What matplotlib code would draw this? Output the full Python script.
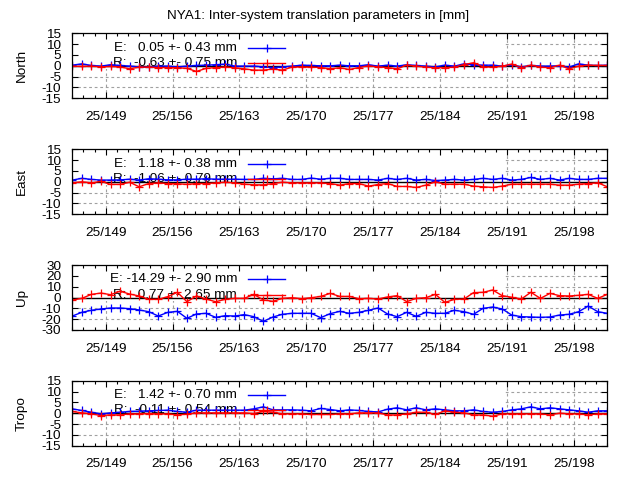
import numpy as np
import matplotlib
matplotlib.use('Agg')
import matplotlib.pyplot as plt
from matplotlib.patches import Rectangle
from matplotlib.ticker import FixedLocator

plt.rcParams['font.family'] = ['Liberation Sans', 'DejaVu Sans']
plt.rcParams['font.size'] = 9.7
plt.rcParams['axes.unicode_minus'] = False

# day of year (values sit at noon of each day)
dias = [145, 146, 147, 148, 149, 150, 151, 152, 153, 154, 155, 156, 157, 158, 159,
        160, 161, 162, 163, 164, 165, 166, 167, 168, 169, 170, 171, 172, 173, 174,
        175, 176, 177, 178, 179, 180, 181, 182, 183, 184, 185, 186, 187, 188, 189,
        190, 191, 192, 193, 194, 195, 196, 197, 198, 199, 200, 201]

tick_dias = [149, 156, 163, 170, 177, 184, 191, 198]
tick_labels = ['25/149', '25/156', '25/163', '25/170', '25/177', '25/184', '25/191', '25/198']

north_E = [0.3, 0.9, 0.15, -0.15, 0.5, 0.15, -0.15, -0.5, -0.6, -0.15, -0.15, -0.5, -0.15, 0.15,
           0.3, 0.5, 0.8, -0.15, -0.15, -0.15, -0.5, -0.8, -0.5, -0.15, 0.3, 0.15,
           0.0, 0.0, 0.3, 0.0, 0.0, 0.5, -0.15, 0.3, -0.15, 0.5, 0.15, -0.15, -0.5, 0.3, -0.15,
           0.9, 0.5, 0.3, 0.3, -0.15, 0.5, -0.5, 0.15, -0.15, -0.15, 0.0, -0.6, 0.9, 0.3, 0.15, 0.3]
north_R = [-0.15, -0.3, -0.15, -0.5, -0.3, -0.5, -1.4, -0.6, -0.6, -0.8, -0.8, -0.9, -1.2, -2.6,
           -1.2, -0.8, -0.6, -0.9, -1.4, -2.0, -2.0, -1.5, -2.0, -0.6, -0.5, -0.6,
           -0.8, -1.4, -0.9, -1.7, -0.8, 0.0, -0.5, -0.8, -1.4, 0.3, -0.15, -0.6, -0.9, -0.9, -0.6,
           0.6, 1.4, -0.5, -0.6, -0.15, 0.8, -0.9, 0.3, -0.6, -0.9, 0.3, -1.4, -0.15, 0.3, 0.15, 0.15]

east_E = [0.8, 1.6, 1.1, 0.8, 0.8, 0.9, 1.2, 0.8, 1.4, 1.2, 0.9, 0.9, 1.2, 1.2, 1.4, 1.2, 1.2,
          1.2, 1.1, 1.1, 1.6, 1.4, 1.6, 1.1, 1.1, 1.7, 1.2, 1.6,
          1.6, 1.1, 1.1, 1.1, 0.8, 1.6, 1.1, 1.6, 0.8, 1.1, 0.6, 0.8, 1.1, 0.8, 1.1, 1.6, 1.1,
          1.6, 0.8, 1.1, 2.0, 1.1, 1.6, 0.8, 1.6, 1.1, 1.1, 1.6, 1.6]
east_R = [-0.5, 0.0, -0.5, 0.2, -1.2, -1.2, -0.2, -2.3, -0.8, -0.5, -0.8, -0.9, -1.2, -0.8, -0.8,
          -0.5, -0.2, -0.5, -1.1, -1.4, -1.4, -0.8, -0.2, -0.5, -0.5, -0.5, -0.5, -0.8,
          -1.55, -0.8, -0.8, -2.0, -1.25, -0.8, -2.15, -2.15, -2.6, -1.55, 0.0, -1.1, -1.1, -1.1,
          -2.0, -2.3, -2.6, -2.0, -1.1, -1.1, -1.1, -1.1, -1.1, -1.55, -1.55, -1.1, -0.8, -0.45, -2.3]

up_E = [-17.1, -13.7, -11.8, -10.6, -9.7, -9.7, -10.3, -11.5, -13.1, -17.1, -13.7, -12.8, -19.2,
        -15.2, -14.6, -18.3, -16.8, -17.1, -15.8,
        -17.7, -22.0, -18.0, -15.5, -14.6, -14.6, -14.6, -18.6, -14.9, -12.8, -14.6, -13.7, -11.8,
        -9.7, -15.2, -17.7, -13.7, -17.4, -13.7,
        -14.6, -14.6, -11.8, -13.1, -15.5, -10.0, -8.8, -10.6, -16.2, -17.7, -18.0, -18.3, -18.0,
        -16.2, -15.5, -13.1, -7.9, -13.1, -14.6]
up_R = [-2.3, -0.8, 2.9, 4.1, 2.6, 5.8, 3.2, 1.4, -1.7, -1.7, 0.8, 4.8, -3.9, 1.4, -1.4, -3.9,
        -1.7, -0.8, -0.8,
        2.9, -2.3, -3.5, -0.8, -0.2, -1.1, -0.2, 1.0, 3.8, 1.0, 1.0, -1.1, -0.8, -1.4, 0.5, 1.7,
        -3.8, -0.8, -0.2,
        2.9, -4.5, -1.7, -1.4, 4.5, 4.8, 6.9, 1.7, 0.2, -1.4, 4.8, -0.8, 3.8, 1.7, 1.4, 2.0, 2.9,
        -0.8, 2.9]

tropo_E = [2.0, 1.25, 0.45, -0.3, 0.15, 0.45, 0.8, 0.95, 1.1, 1.25, 1.4, 0.8, 0.45, 1.4, 1.4, 1.4,
           1.4, 1.4, 1.4, 2.0, 2.95, 1.55, 1.55, 1.55, 1.4, 1.1, 2.2, 1.7,
           1.1, 1.55, 1.25, 0.8, 0.6, 1.85, 2.5, 1.55, 2.5, 1.55, 2.0, 1.55, 1.1, 1.1, 1.55, 0.8,
           0.45, 0.8, 1.55, 2.0, 2.95, 2.0, 2.5, 2.0, 1.55, 1.1, 0.45, 1.1, 1.1]
tropo_R = [0.8, 0.15, -0.3, -1.1, -0.8, -0.8, -0.3, -0.3, -0.15, -0.3, -0.3, -0.8, -0.45, 0.15,
           0.15, 0.15, 0.15, 0.15, 0.15, -0.15, 0.8, 0.45, -0.3, -0.3, -0.3, -0.6, -0.6, -0.6,
           -0.3, -0.3, 0.15, 0.15, 0.15, -0.8, -0.8, -0.3, 0.45, 0.45, -0.6, 1.1, 0.45, 0.15, -0.8,
           -0.8, -1.4, -0.3, -0.3, -0.3, -0.3, -0.3, -0.8, 0.0, -0.3, -0.3, -0.8, -0.3, -0.3]

paneles = ['North', 'East', 'Up', 'Tropo']
series_E = [north_E, east_E, up_E, tropo_E]
series_R = [north_R, east_R, up_R, tropo_R]
limites = [15, 15, 30, 15]
pasos = [5, 5, 10, 5]
textos_E = ['E:   0.05 +- 0.43 mm', 'E:   1.18 +- 0.38 mm', 'E: -14.29 +- 2.90 mm', 'E:   1.42 +- 0.70 mm']
textos_R = ['R:  -0.63 +- 0.75 mm', 'R:  -1.06 +- 0.79 mm', 'R:   0.77 +- 2.65 mm', 'R:  -0.11 +- 0.54 mm']

x = np.array(dias) + 0.5
tops = [33.3, 149.3, 265.0, 380.7]  # pixel top of each panel

fig = plt.figure(figsize=(6.4, 4.8), dpi=100)
fig.text(318 / 640, 1 - 16 / 480, 'NYA1: Inter-system translation parameters in [mm]',
         ha='center', va='center')

minor = [149 + k * 7 / 6 for k in range(-3, 46)]

for i, nombre in enumerate(paneles):
    bottom = 1 - (tops[i] + 65) / 480
    ax = fig.add_axes([72.3 / 640, bottom, 535 / 640, 65 / 480])
    lim = limites[i]
    yt = list(range(-lim, lim + 1, pasos[i]))

    ax.set_xlim(145.5, 201.5)
    ax.set_ylim(-lim, lim)
    ax.set_xticks(tick_dias)
    ax.set_xticklabels(tick_labels)
    ax.xaxis.set_minor_locator(FixedLocator(minor))
    ax.set_yticks(yt)

    # grid (dashed grey), hidden by key box on the upper left
    for t in tick_dias:
        ax.axvline(t, color='#a0a0a0', lw=0.8, ls=(0, (2.5, 2.5)), zorder=1)
    for t in yt:
        if t != 0 and abs(t) != lim:
            ax.axhline(t, color='#a0a0a0', lw=0.8, ls=(0, (2.5, 2.5)), zorder=1)
    ax.add_patch(Rectangle((0, 0.45), 0.809, 0.56, transform=ax.transAxes,
                           facecolor='white', edgecolor='none', zorder=1.5, clip_on=False))

    ax.axhline(0, color='black', lw=1.0, zorder=2.2)

    ax.plot(x, series_E[i], color='blue', lw=1.0, marker='+', ms=5.5, mew=0.9, zorder=2.3)
    ax.plot(x, series_R[i], color='red', lw=1.0, marker='+', ms=5.5, mew=0.9, zorder=2.4)

    # key
    ax.text(0.308, 0.78, textos_E[i], transform=ax.transAxes, ha='right', va='center', zorder=2)
    ax.text(0.308, 0.545, textos_R[i], transform=ax.transAxes, ha='right', va='center', zorder=2)
    ax.plot([0.328, 0.398], [0.78, 0.78], transform=ax.transAxes, color='blue', lw=1.0, zorder=2.3)
    ax.plot([0.363], [0.78], transform=ax.transAxes, color='blue', marker='+', ms=5.5, mew=0.9, zorder=2.3)
    ax.plot([0.328, 0.398], [0.545, 0.545], transform=ax.transAxes, color='red', lw=1.0, zorder=2.4)
    ax.plot([0.363], [0.545], transform=ax.transAxes, color='red', marker='+', ms=5.5, mew=0.9, zorder=2.4)

    ax.tick_params(which='major', direction='in', top=True, right=True, length=4.5, width=0.8)
    ax.tick_params(which='minor', direction='in', top=True, right=True, length=2.5, width=0.8)
    ax.tick_params(axis='x', pad=9)
    ax.tick_params(axis='y', pad=8)
    for s in ax.spines.values():
        s.set_linewidth(0.9)

    fig.text(22 / 640, 1 - (tops[i] + 32.5) / 480, nombre, rotation=90, ha='center', va='center')

plt.savefig('out.png', dpi=100)
